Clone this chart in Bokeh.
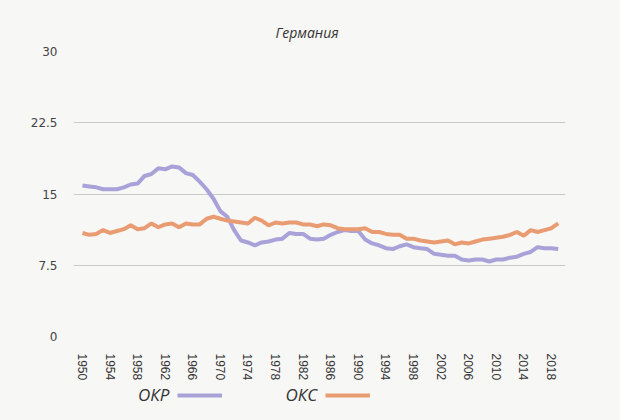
from bokeh.plotting import figure
from bokeh.models import FixedTicker, Legend, LegendItem
from bokeh.layouts import column
from bokeh.embed import file_html
from bokeh.resources import INLINE

years = list(range(1950, 2020))
okr = [15.9, 15.8, 15.7, 15.5, 15.5, 15.5, 15.7, 16.0, 16.1, 16.9,
       17.1, 17.7, 17.6, 17.9, 17.8, 17.2, 17.0, 16.3, 15.5, 14.5,
       13.2, 12.6, 11.2, 10.1, 9.9, 9.6, 9.9, 10.0, 10.2, 10.3,
       10.9, 10.8, 10.8, 10.3, 10.2, 10.3, 10.7, 11.0, 11.2, 11.1,
       11.1, 10.2, 9.8, 9.6, 9.3, 9.2, 9.5, 9.7, 9.4, 9.3,
       9.2, 8.7, 8.6, 8.5, 8.5, 8.1, 8.0, 8.1, 8.1, 7.9,
       8.1, 8.1, 8.3, 8.4, 8.7, 8.9, 9.4, 9.3, 9.3, 9.2]
oks = [10.9, 10.7, 10.8, 11.2, 10.9, 11.1, 11.3, 11.7, 11.3, 11.4,
       11.9, 11.5, 11.8, 11.9, 11.5, 11.9, 11.8, 11.8, 12.4, 12.6,
       12.4, 12.2, 12.1, 12.0, 11.9, 12.5, 12.2, 11.7, 12.0, 11.9,
       12.0, 12.0, 11.8, 11.8, 11.6, 11.8, 11.7, 11.4, 11.3, 11.3,
       11.3, 11.4, 11.0, 11.0, 10.8, 10.7, 10.7, 10.3, 10.3, 10.1,
       10.0, 9.9, 10.0, 10.1, 9.7, 9.9, 9.8, 10.0, 10.2, 10.3,
       10.4, 10.5, 10.7, 11.0, 10.6, 11.2, 11.0, 11.2, 11.4, 11.9]
y_ticks = [0, 7.5, 15, 22.5, 30]
x_ticks = list(range(1950, 2019, 4))
title_text = "Германия"
series_names = ["ОКР", "ОКС"]

BG = "#f7f7f5"
C_OKR = "#a9a2d9"
C_OKS = "#e99b72"

p = figure(width=620, height=383, output_backend="svg", toolbar_location=None,
           x_range=(1948.7, 2020.05), y_range=(0, 30),
           min_border_left=73, min_border_right=55, min_border_top=51, min_border_bottom=40,
           background_fill_color=BG, border_fill_color=BG, outline_line_color=None)

p.line(years, okr, line_color=C_OKR, line_width=4)
p.line(years, oks, line_color=C_OKS, line_width=4)

p.title.text = title_text
p.title.align = "left"
p.title.offset = 202
p.title.text_font = "Open Sans"
p.title.text_font_style = "italic"
p.title.text_font_size = "14px"
p.title.text_color = "#333333"
p.title.standoff = 19

p.xgrid.grid_line_color = None
p.ygrid.grid_line_color = "#c9c9c9"
p.ygrid.grid_line_width = 1
p.yaxis.ticker = FixedTicker(ticks=y_ticks)
p.xaxis.ticker = FixedTicker(ticks=x_ticks)
p.yaxis.major_label_overrides = {0: "0", 7.5: "7.5", 15: "15", 22.5: "22.5", 30: "30"}
for ax in (p.xaxis[0], p.yaxis[0]):
    ax.axis_line_color = None
    ax.major_tick_line_color = None
    ax.minor_tick_line_color = None
p.yaxis.major_label_text_font = "DejaVu Sans"
p.yaxis.major_label_text_font_size = "12px"
p.yaxis.major_label_text_color = "#444444"
p.yaxis.major_label_standoff = 10
p.xaxis.major_label_text_font = "Liberation Sans"
p.xaxis.major_label_text_font_size = "12px"
p.xaxis.major_label_text_color = "#333333"
p.xaxis.major_label_orientation = "vertical"
p.xaxis.major_label_standoff = 11

# legend strip below the chart (its lines lie outside its view; only the legend shows)
lf = figure(width=620, height=37, output_backend="svg", toolbar_location=None,
            x_range=(0, 1), y_range=(0, 1), min_border=0,
            x_axis_type=None, y_axis_type=None,
            background_fill_color=BG, border_fill_color=BG, outline_line_color=None)
lf.grid.grid_line_color = None
g1 = lf.line(years, okr, line_color=C_OKR, line_width=4)
g2 = lf.line(years, oks, line_color=C_OKS, line_width=4)
n1 = lf.line(years, okr, line_alpha=0)
n2 = lf.line(years, oks, line_alpha=0)

legend = Legend(items=[LegendItem(label=series_names[0], renderers=[n1]),
                       LegendItem(label=" ", renderers=[g1]),
                       LegendItem(label=series_names[1], renderers=[n2]),
                       LegendItem(label=" ", renderers=[g2])],
                orientation="horizontal", location=(15, 14),
                glyph_width=45, glyph_height=20, padding=0, margin=0,
                label_standoff=5, spacing=8, label_width=0,
                border_line_color=None, background_fill_alpha=0,
                label_text_font="Open Sans", label_text_font_style="italic",
                label_text_font_size="17px", label_text_color="#333333")
lf.add_layout(legend)

layout = column(p, lf, spacing=0)
html = file_html(layout, INLINE)
html = html.replace("</head>", "<style>html,body{background:#f7f7f5;margin:0}</style></head>", 1)
open("out.html", "w").write(html)
